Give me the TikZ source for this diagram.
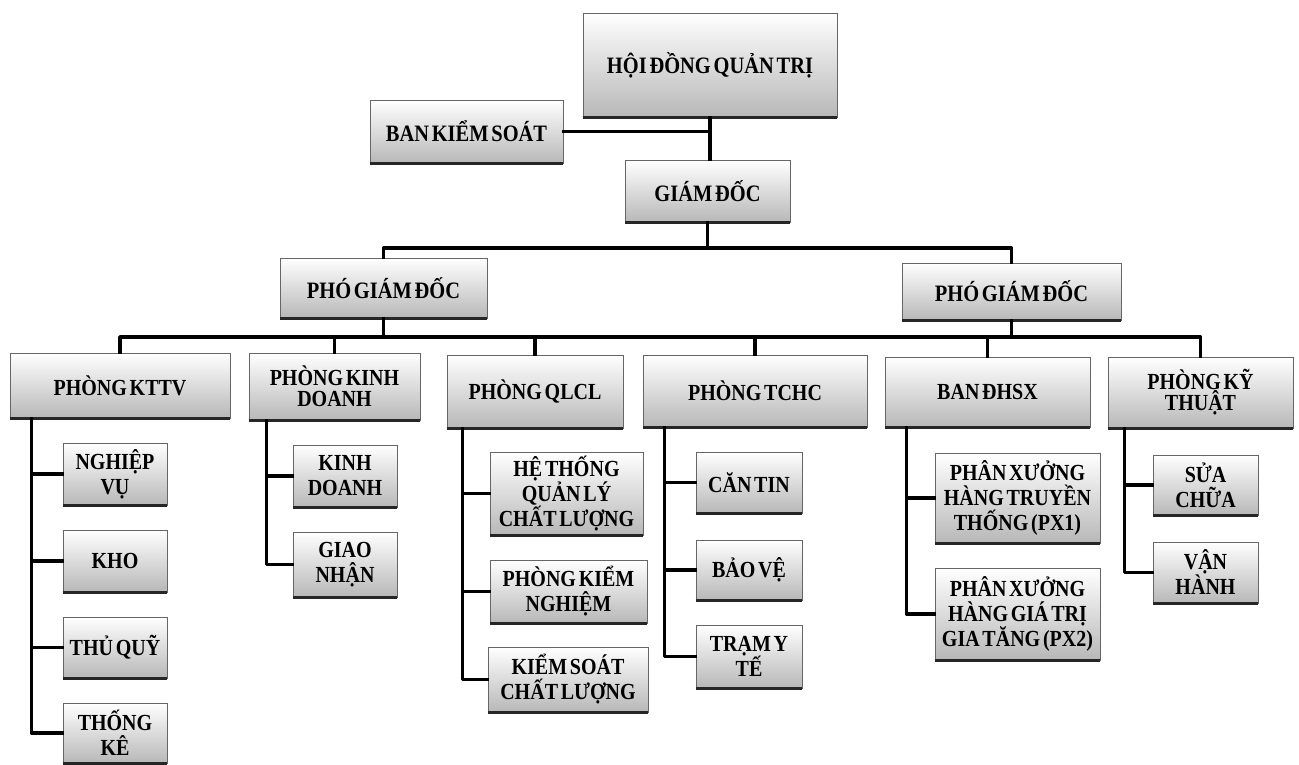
\documentclass[tikz,border=0pt]{standalone}
\usepackage{fontspec}
\setmainfont{Liberation Serif}[WordSpace=0.55, FakeStretch=0.87]
\begin{document}
\begin{tikzpicture}[x=1pt,y=-1pt,
  boxst/.style={draw=black!60, line width=0.8pt, top color=white, middle color=white, bottom color=black!28,
    align=center, inner sep=0pt, text=black},
  topfont/.style={font=\bfseries\fontsize{23.5}{20}\selectfont},
  midfont/.style={font=\bfseries\fontsize{23}{21}\selectfont},
  subfont/.style={font=\bfseries\fontsize{23}{25}\selectfont},
  conn/.style={line width=3.6pt, black, line join=round, line cap=rect},
  bottomedge/.style={line width=2.2pt, black!85}]
\useasboundingbox (0,0) rectangle (1299,764);
% top level
\node[boxst,topfont,minimum width=254pt,minimum height=104pt] (hdqt) at (710,65) {HỘI ĐỒNG QUẢN TRỊ};
\node[boxst,topfont,minimum width=193pt,minimum height=63pt] (bks) at (466.5,131.5) {BAN KIỂM SOÁT};
\node[boxst,topfont,minimum width=165pt,minimum height=62pt] (gd) at (707.5,191) {GIÁM ĐỐC};
\node[boxst,topfont,minimum width=207pt,minimum height=60pt] (pgda) at (383.5,288) {PHÓ GIÁM ĐỐC};
\node[boxst,topfont,minimum width=219pt,minimum height=57pt] (pgdb) at (1011.5,291.5) {PHÓ GIÁM ĐỐC};
% departments
\node[boxst,midfont,minimum width=220pt,minimum height=65pt] (kttv) at (120,385.5) {PHÒNG KTTV};
\node[boxst,midfont,minimum width=171pt,minimum height=67pt] (kd) at (334.5,386.5) {PHÒNG KINH\\DOANH};
\node[boxst,midfont,minimum width=176pt,minimum height=73pt] (qlcl) at (535,391.5) {PHÒNG QLCL};
\node[boxst,midfont,minimum width=224pt,minimum height=72pt] (tchc) at (755,391) {PHÒNG TCHC};
\node[boxst,midfont,minimum width=205pt,minimum height=70pt] (dhsx) at (987.5,392) {BAN ĐHSX};
\node[boxst,midfont,minimum width=185pt,minimum height=71pt] (kt) at (1200.5,392.5) {PHÒNG KỸ\\THUẬT};
% sub units
\node[boxst,subfont,minimum width=104pt,minimum height=62pt] (nv) at (115,474) {NGHIỆP\\VỤ};
\node[boxst,subfont,minimum width=104pt,minimum height=62pt] (kho) at (115,561) {KHO};
\node[boxst,subfont,minimum width=104pt,minimum height=61pt] (tq) at (115,647.5) {THỦ QUỸ};
\node[boxst,subfont,minimum width=104pt,minimum height=60pt] (tk) at (115,733) {THỐNG\\KÊ};
\node[boxst,subfont,minimum width=104pt,minimum height=62pt] (kdc) at (345,476) {KINH\\DOANH};
\node[boxst,subfont,minimum width=104pt,minimum height=65pt] (gn) at (345,564.5) {GIAO\\NHẬN};
\node[boxst,subfont,minimum width=153pt,minimum height=83pt] (ht) at (566.5,493.5) {HỆ THỐNG\\QUẢN LÝ\\CHẤT LƯỢNG};
\node[boxst,subfont,minimum width=157pt,minimum height=63pt] (pkn) at (568.5,591.5) {PHÒNG KIỂM\\NGHIỆM};
\node[boxst,subfont,minimum width=160pt,minimum height=65pt] (ks) at (568,679.5) {KIỂM SOÁT\\CHẤT LƯỢNG};
\node[boxst,subfont,minimum width=106pt,minimum height=61pt] (ct) at (749,482.5) {CĂN TIN};
\node[boxst,subfont,minimum width=106pt,minimum height=60pt] (bv) at (749,570) {BẢO VỆ};
\node[boxst,subfont,minimum width=106pt,minimum height=63pt] (tyt) at (749,656.5) {TRẠM Y\\TẾ};
\node[boxst,subfont,minimum width=165pt,minimum height=90pt] (pxa) at (1017.5,498) {PHÂN XƯỞNG\\HÀNG TRUYỀN\\THỐNG (PX1)};
\node[boxst,subfont,minimum width=165pt,minimum height=92pt] (pxb) at (1017.5,614) {PHÂN XƯỞNG\\HÀNG GIÁ TRỊ\\GIA TĂNG (PX2)};
\node[boxst,subfont,minimum width=105pt,minimum height=60pt] (sc) at (1205.5,485) {SỬA\\CHỮA};
\node[boxst,subfont,minimum width=105pt,minimum height=61pt] (vh) at (1205.5,572.5) {VẬN\\HÀNH};
% thick bottom edges
\foreach \n in {hdqt,bks,gd,pgda,pgdb,kttv,kd,qlcl,tchc,dhsx,kt,nv,kho,tq,tk,kdc,gn,ht,pkn,ks,ct,bv,tyt,pxa,pxb,sc,vh}
  \draw[bottomedge] (\n.south west) -- (\n.south east);
% connectors, top
\draw[conn] (hdqt.south) -- (hdqt.south |- gd.north);
\draw[conn] (bks.east) -- (bks.east -| hdqt.south);
\coordinate (busa) at (gd.south |- 0,248);
\draw[conn] (gd.south) -- (busa);
\draw[conn] (pgda.north) |- (busa) -| (pgdb.north);
\coordinate (busb) at (600,337);
\draw[conn] (kttv.north) |- (busb) -| (kt.north);
\draw[conn] (pgda.south) -- (pgda.south |- busb);
\draw[conn] (pgdb.south) -- (pgdb.south |- busb);
\foreach \n in {kd,qlcl,tchc,dhsx}
  \draw[conn] (\n.north) -- (\n.north |- busb);
% children connectors
\coordinate (lkttv) at ([xshift=22pt]kttv.south west);
\coordinate (lkd) at ([xshift=18pt]kd.south west);
\coordinate (lqlcl) at ([xshift=16pt]qlcl.south west);
\coordinate (ltchc) at ([xshift=22pt]tchc.south west);
\coordinate (ldhsx) at ([xshift=22pt]dhsx.south west);
\coordinate (lkt) at ([xshift=17pt]kt.south west);
\foreach \c in {nv,kho,tq,tk} \draw[conn] (lkttv) |- (\c.west);
\foreach \c in {kdc,gn} \draw[conn] (lkd) |- (\c.west);
\foreach \c in {ht,pkn,ks} \draw[conn] (lqlcl) |- (\c.west);
\foreach \c in {ct,bv,tyt} \draw[conn] (ltchc) |- (\c.west);
\foreach \c in {pxa,pxb} \draw[conn] (ldhsx) |- (\c.west);
\foreach \c in {sc,vh} \draw[conn] (lkt) |- (\c.west);
\end{tikzpicture}
\end{document}
